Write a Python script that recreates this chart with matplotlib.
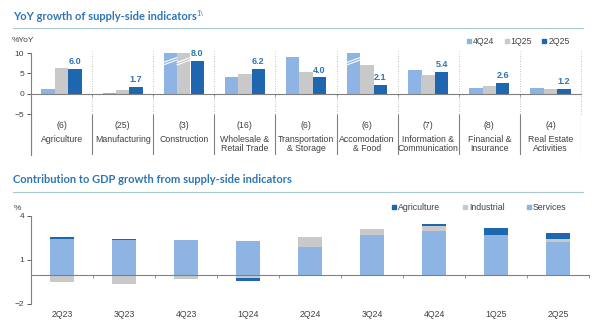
import numpy as np
import matplotlib.pyplot as plt
from matplotlib.lines import Line2D
from matplotlib.transforms import blended_transform_factory

# --- data: YoY growth by sector (%YoY), capped at 10 on the chart
sectors = ['Agriculture', 'Manufacturing', 'Construction', 'Wholesale &\nRetail Trade',
           'Transportation\n& Storage', 'Accomodation\n& Food', 'Information &\nCommunication',
           'Financial &\nInsurance', 'Real Estate\nActivities']
weights = ['(6)', '(25)', '(3)', '(16)', '(6)', '(6)', '(7)', '(8)', '(4)']
q4_24 = [1.1, 0.2, 10.0, 4.0, 8.9, 10.0, 5.9, 1.4, 1.5]
q1_25 = [6.3, 0.9, 10.0, 4.8, 5.4, 7.1, 4.5, 2.0, 1.1]
q2_25 = [6.0, 1.7, 8.0, 6.2, 4.0, 2.1, 5.4, 2.6, 1.2]
broken_q4 = [False, False, True, False, False, True, False, False, False]
broken_q1 = [False, False, True, False, False, False, False, False, False]

# --- data: contribution to GDP growth (%)
quarters = ['2Q23', '3Q23', '4Q23', '1Q24', '2Q24', '3Q24', '4Q24', '1Q25', '2Q25']
services = [2.40, 2.37, 2.39, 2.32, 1.91, 2.70, 3.00, 2.73, 2.25]
industrial = [-0.50, -0.63, -0.30, -0.25, 0.64, 0.40, 0.32, 0.0, 0.18]
agriculture = [0.18, 0.08, 0.0, -0.15, -0.07, -0.05, 0.14, 0.43, 0.40]

C_LIGHT = '#8db4e2'
C_GRAY = '#c9c9c9'
C_DARK = '#1f66b0'
C_TITLE = '#2e75b6'
C_AXIS = '#808080'
C_TEXT = '#404040'

plt.rcParams['font.family'] = ['Liberation Sans', 'DejaVu Sans']

fig = plt.figure(figsize=(6, 3.26), dpi=100)

# titles + rules
fig.text(13 / 600, 1 - 17 / 326, 'YoY growth of supply-side indicators', family='Lato',
         fontweight='bold', fontsize=8.0, color=C_TITLE, va='center')
fig.text(196 / 600, 1 - 13 / 326, '1\\', family='Lato', fontsize=5, color=C_TITLE, va='center')
fig.add_artist(Line2D([13 / 600, 583 / 600], [1 - 28 / 326] * 2, color='#a8c7cf', lw=0.8))
fig.text(13 / 600, 1 - 179 / 326, 'Contribution to GDP growth from supply-side indicators',
         family='Lato', fontweight='bold', fontsize=8.0, color=C_TITLE, va='center')
fig.add_artist(Line2D([13 / 600, 583 / 600], [1 - 191.5 / 326] * 2, color='#a8c7cf', lw=0.8))

# ---------------- top chart
ax = fig.add_axes([31 / 600, 1 - 155 / 326, 550 / 600, 102 / 326])
x = np.arange(len(sectors))
w = 0.22
ax.bar(x - w, q4_24, w, color=C_LIGHT, label='4Q24')
ax.bar(x, q1_25, w, color=C_GRAY, label='1Q25')
ax.bar(x + w, q2_25, w, color=C_DARK, label='2Q25')

# break marks on capped bars
for xs, flags in ((x - w, broken_q4), (x, broken_q1)):
    for xi, b in zip(xs, flags):
        if b:
            for y0 in (7.1, 7.7):
                ax.plot([xi - w / 2, xi + w / 2], [y0, y0 + 1.2], color='white', lw=0.8)

for xi, v in zip(x + w, q2_25):
    ax.text(xi, v + 0.7, f'{v:.1f}', ha='center', va='bottom', fontsize=6.5,
            fontweight='bold', color=C_TITLE)

ax.set_xlim(-0.5, len(sectors) - 0.5)
ax.set_ylim(-15, 10)
ax.set_yticks([-5, 0, 5, 10])
ax.tick_params(axis='y', labelsize=6, colors=C_TEXT, length=3, width=0.6, pad=2)
for s in ('top', 'right'):
    ax.spines[s].set_visible(False)
ax.spines['left'].set_color(C_AXIS)
ax.spines['left'].set_linewidth(0.8)
ax.spines['bottom'].set_position(('data', 0))
ax.spines['bottom'].set_color(C_AXIS)
ax.spines['bottom'].set_linewidth(0.8)
bounds = np.arange(len(sectors) + 1) - 0.5
ax.set_xticks(bounds[1:-1])
ax.set_xticklabels([])
ax.tick_params(axis='x', length=2.5, width=0.6, color=C_AXIS, direction='out')
ax.vlines(bounds[1:], -5, 10.6, colors='#b0b0b0', linestyles=(0, (1, 2)), lw=0.6, clip_on=False)
ax.vlines(bounds, -15, -5, colors=C_AXIS, lw=0.8)
for xi, wt, name in zip(x, weights, sectors):
    ax.text(xi, -7.7, wt, ha='center', va='center', fontsize=6.3, color=C_TEXT)
    ax.text(xi, -10.2, name, ha='center', va='top', fontsize=6.3, color=C_TEXT, linespacing=1.0)
fig.text(12 / 600, 1 - 41 / 326, '%YoY', fontsize=6, color=C_TEXT, va='center')
handles = [Line2D([], [], marker='s', ls='none', ms=3.5, color=c) for c in (C_LIGHT, C_GRAY, C_DARK)]
fig.legend(handles, ['4Q24', '1Q25', '2Q25'], loc='center right', bbox_to_anchor=(574 / 600, 1 - 42 / 326),
           ncol=3, frameon=False, fontsize=6.3, handletextpad=0.05, columnspacing=1.0,
           handlelength=0.8, borderpad=0, labelcolor=C_TEXT)

# ---------------- bottom chart
ax2 = fig.add_axes([31 / 600, 1 - 304 / 326, 558 / 600, 88 / 326])
xq = np.arange(len(quarters))
bw = 0.4
pos = np.zeros(len(quarters))
neg = np.zeros(len(quarters))
for vals, col in ((services, C_LIGHT), (industrial, C_GRAY), (agriculture, C_DARK)):
    v = np.array(vals)
    vp = np.where(v > 0, v, 0)
    vn = np.where(v < 0, v, 0)
    ax2.bar(xq, vp, bw, bottom=pos, color=col)
    ax2.bar(xq, vn, bw, bottom=neg, color=col)
    pos += vp
    neg += vn

ax2.set_xlim(-0.5, len(quarters) - 0.5)
ax2.set_ylim(-2, 4)
ax2.set_yticks([-2, 1, 4])
ax2.tick_params(axis='y', labelsize=6, colors=C_TEXT, length=3, width=0.6, pad=2)
for s in ('top', 'right'):
    ax2.spines[s].set_visible(False)
ax2.spines['left'].set_color(C_AXIS)
ax2.spines['left'].set_linewidth(0.8)
ax2.spines['bottom'].set_position(('data', 0))
ax2.spines['bottom'].set_color(C_AXIS)
ax2.spines['bottom'].set_linewidth(0.8)
qb = np.arange(len(quarters) + 1) - 0.5
ax2.set_xticks(qb[1:])
ax2.set_xticklabels([])
ax2.tick_params(axis='x', length=2.5, width=0.6, color=C_AXIS, direction='out')
trans2 = blended_transform_factory(ax2.transData, ax2.transAxes)
for xi, q in zip(xq, quarters):
    ax2.text(xi, -0.12, q, transform=trans2, ha='center', va='center', fontsize=6.3, color=C_TEXT)
fig.text(14 / 600, 1 - 208 / 326, '%', fontsize=6, color=C_TEXT, va='center')
handles2 = [Line2D([], [], marker='s', ls='none', ms=3.5, color=c) for c in (C_DARK, C_GRAY, C_LIGHT)]
fig.legend(handles2, ['Agriculture', 'Industrial', 'Services'], loc='center right',
           bbox_to_anchor=(571 / 600, 1 - 208 / 326), ncol=3, frameon=False, fontsize=6.3,
           handletextpad=0.05, columnspacing=2.4, handlelength=0.8, borderpad=0, labelcolor=C_TEXT)

fig.savefig('out.png', dpi=100)
